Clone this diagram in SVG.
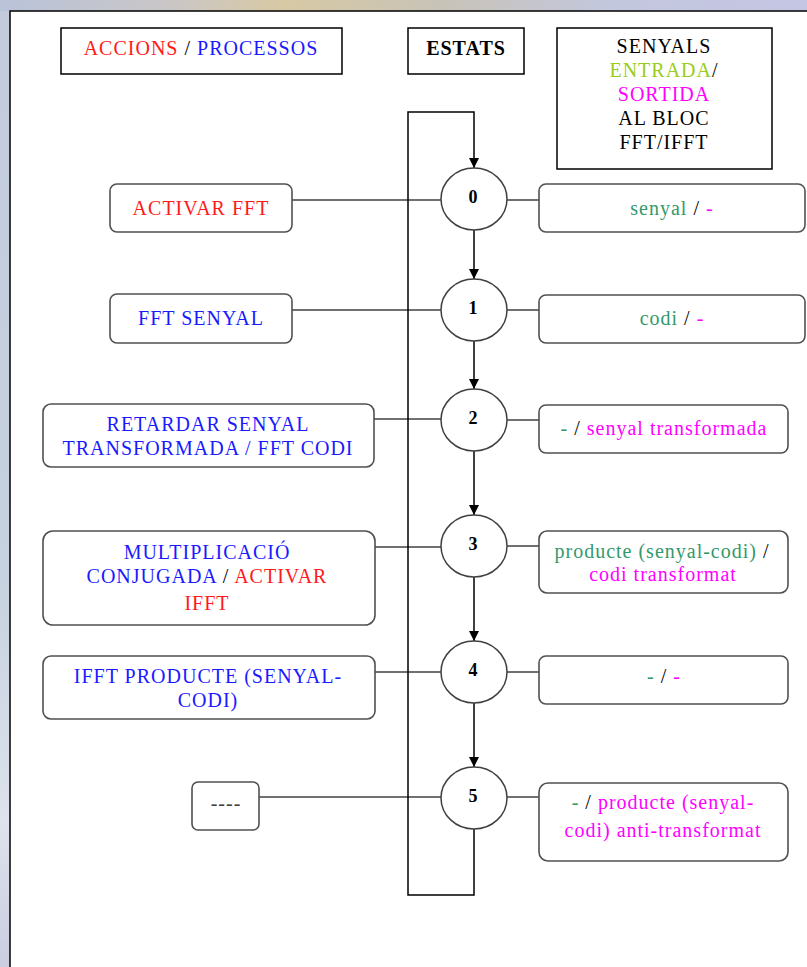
<svg xmlns="http://www.w3.org/2000/svg" width="807" height="967" viewBox="0 0 807 967">
  <defs>
    <linearGradient id="topBand" x1="0" y1="0" x2="1" y2="0">
      <stop offset="0" stop-color="#b9c3d9"/>
      <stop offset="0.2" stop-color="#c9c6c8"/>
      <stop offset="0.35" stop-color="#d8c9a4"/>
      <stop offset="0.55" stop-color="#c8c3b8"/>
      <stop offset="0.75" stop-color="#c3c7dd"/>
      <stop offset="1" stop-color="#c5c6e4"/>
    </linearGradient>
    <linearGradient id="leftBand" x1="0" y1="0" x2="0" y2="1">
      <stop offset="0" stop-color="#c3cadc"/>
      <stop offset="0.6" stop-color="#c6d2df"/>
      <stop offset="0.85" stop-color="#dde2ec"/>
      <stop offset="1" stop-color="#c9cde0"/>
    </linearGradient>
    <marker id="arrow" viewBox="0 0 10 10" refX="10" refY="5" markerWidth="10" markerHeight="10" markerUnits="userSpaceOnUse" orient="auto">
      <path d="M0,0 L10,5 L0,10 Z" fill="#000"/>
    </marker>
    <style>
      text { font-family: "Liberation Serif", "DejaVu Serif", serif; font-size: 20px; letter-spacing: 1px; text-anchor: middle; }
      .num { font-weight: bold; font-size: 18px; letter-spacing: 0; }
      .hdr { fill: #fff; stroke: #000; stroke-width: 1.5; }
      .box { fill: #fff; stroke: #505050; stroke-width: 1.6; }
      .state { fill: #fff; stroke: #404040; stroke-width: 1.5; }
      .wire { fill: none; stroke: #404040; stroke-width: 1.5; }
      .flow { fill: none; stroke: #000; stroke-width: 1.5; }
      .red { fill: #ff1a1a; }
      .blue { fill: #1a1aff; }
      .blk { fill: #000; }
      .grn { fill: #33996b; }
      .mag { fill: #ff00ff; }
      .lime { fill: #9acd1a; }
    </style>
  </defs>

  <!-- backdrop bands around the panel -->
  <rect x="0" y="0" width="807" height="967" fill="url(#leftBand)"/>
  <rect x="0" y="0" width="807" height="11" fill="url(#topBand)"/>

  <!-- main panel -->
  <rect x="10" y="11" width="820" height="980" fill="#fff" stroke="#000" stroke-width="1.5"/>

  <!-- column headers -->
  <g id="hdr-accions">
    <rect class="hdr" x="61" y="28" width="281" height="46"/>
    <text x="201" y="55"><tspan class="red">ACCIONS</tspan><tspan class="blk"> / </tspan><tspan class="blue">PROCESSOS</tspan></text>
  </g>
  <g id="hdr-estats">
    <rect class="hdr" x="408" y="28" width="116" height="46"/>
    <text x="466" y="55" font-weight="bold" class="blk">ESTATS</text>
  </g>
  <g id="hdr-senyals">
    <rect class="hdr" x="557" y="28" width="215" height="141"/>
    <text x="664" y="53" class="blk">SENYALS</text>
    <text x="664" y="77"><tspan class="lime">ENTRADA</tspan><tspan class="blk">/</tspan></text>
    <text x="664" y="101" class="mag">SORTIDA</text>
    <text x="664" y="125" class="blk">AL BLOC</text>
    <text x="664" y="149" class="blk">FFT/IFFT</text>
  </g>

  <!-- connectors -->
  <g id="connectors">
    <!-- action boxes to states -->
    <line class="wire" x1="292" y1="200" x2="441" y2="200"/>
    <line class="wire" x1="292" y1="310" x2="441" y2="310"/>
    <line class="wire" x1="374" y1="419" x2="441" y2="419"/>
    <line class="wire" x1="375" y1="547" x2="441" y2="547"/>
    <line class="wire" x1="375" y1="672" x2="441" y2="672"/>
    <line class="wire" x1="259" y1="797" x2="441" y2="797"/>
    <!-- states to signal boxes -->
    <line class="wire" x1="507" y1="200" x2="539" y2="200"/>
    <line class="wire" x1="507" y1="310" x2="539" y2="310"/>
    <line class="wire" x1="507" y1="420" x2="539" y2="420"/>
    <line class="wire" x1="507" y1="546" x2="539" y2="546"/>
    <line class="wire" x1="507" y1="672" x2="539" y2="672"/>
    <line class="wire" x1="507" y1="797" x2="539" y2="797"/>
    <!-- state transitions -->
    <line class="flow" x1="474" y1="230" x2="474" y2="279" marker-end="url(#arrow)"/>
    <line class="flow" x1="474" y1="341" x2="474" y2="389" marker-end="url(#arrow)"/>
    <line class="flow" x1="474" y1="451" x2="474" y2="515" marker-end="url(#arrow)"/>
    <line class="flow" x1="474" y1="577" x2="474" y2="641" marker-end="url(#arrow)"/>
    <line class="flow" x1="474" y1="703" x2="474" y2="767" marker-end="url(#arrow)"/>
    <!-- return from state 5 to state 0 -->
    <polyline class="flow" points="474,829 474,895 408,895 408,112 474,112 474,168" marker-end="url(#arrow)"/>
  </g>

  <!-- states -->
  <g id="state-0"><ellipse class="state" cx="474" cy="199" rx="33" ry="31"/><text class="num" x="473" y="203">0</text></g>
  <g id="state-1"><ellipse class="state" cx="474" cy="310" rx="33" ry="31"/><text class="num" x="473" y="314">1</text></g>
  <g id="state-2"><ellipse class="state" cx="474" cy="420" rx="33" ry="31"/><text class="num" x="473" y="424">2</text></g>
  <g id="state-3"><ellipse class="state" cx="474" cy="546" rx="33" ry="31"/><text class="num" x="473" y="550">3</text></g>
  <g id="state-4"><ellipse class="state" cx="474" cy="672" rx="33" ry="31"/><text class="num" x="473" y="676">4</text></g>
  <g id="state-5"><ellipse class="state" cx="474" cy="798" rx="33" ry="31"/><text class="num" x="473" y="802">5</text></g>

  <!-- actions / processes -->
  <g id="act-0">
    <rect class="box" x="110" y="184" width="182" height="48" rx="7"/>
    <text x="201" y="215" class="red">ACTIVAR FFT</text>
  </g>
  <g id="act-1">
    <rect class="box" x="110" y="294" width="182" height="49" rx="7"/>
    <text x="201" y="325" class="blue">FFT SENYAL</text>
  </g>
  <g id="act-2">
    <rect class="box" x="43" y="404" width="331" height="63" rx="8"/>
    <text x="208" y="431" class="blue">RETARDAR SENYAL</text>
    <text x="208" y="455" class="blue">TRANSFORMADA / FFT CODI</text>
  </g>
  <g id="act-3">
    <rect class="box" x="43" y="531" width="332" height="94" rx="10"/>
    <text x="207" y="559" class="blue">MULTIPLICACIÓ</text>
    <text x="207" y="583"><tspan class="blue">CONJUGADA</tspan><tspan class="blk"> / </tspan><tspan class="red">ACTIVAR</tspan></text>
    <text x="207" y="610" class="red">IFFT</text>
  </g>
  <g id="act-4">
    <rect class="box" x="43" y="656" width="332" height="63" rx="8"/>
    <text x="208" y="683" class="blue">IFFT PRODUCTE (SENYAL-</text>
    <text x="208" y="707" class="blue">CODI)</text>
  </g>
  <g id="act-5">
    <rect class="box" x="192" y="782" width="67" height="48" rx="6"/>
    <text x="226" y="810" fill="#404040">----</text>
  </g>

  <!-- input / output signals -->
  <g id="sig-0">
    <rect class="box" x="539" y="184" width="266" height="48" rx="7"/>
    <text x="672" y="215"><tspan class="grn">senyal</tspan><tspan class="blk"> / </tspan><tspan class="mag">-</tspan></text>
  </g>
  <g id="sig-1">
    <rect class="box" x="539" y="295" width="266" height="48" rx="7"/>
    <text x="672" y="325"><tspan class="grn">codi</tspan><tspan class="blk"> / </tspan><tspan class="mag">-</tspan></text>
  </g>
  <g id="sig-2">
    <rect class="box" x="539" y="405" width="249" height="48" rx="7"/>
    <text x="664" y="435"><tspan class="grn">-</tspan><tspan class="blk"> / </tspan><tspan class="mag">senyal transformada</tspan></text>
  </g>
  <g id="sig-3">
    <rect class="box" x="539" y="531" width="249" height="62" rx="8"/>
    <text x="662" y="558"><tspan class="grn">producte (senyal-codi)</tspan><tspan class="blk"> /</tspan></text>
    <text x="663" y="581" class="mag">codi transformat</text>
  </g>
  <g id="sig-4">
    <rect class="box" x="539" y="656" width="249" height="48" rx="7"/>
    <text x="664" y="683"><tspan class="grn">-</tspan><tspan class="blk"> / </tspan><tspan class="mag">-</tspan></text>
  </g>
  <g id="sig-5">
    <rect class="box" x="539" y="783" width="249" height="78" rx="9"/>
    <text x="663" y="809"><tspan class="grn">-</tspan><tspan class="blk"> / </tspan><tspan class="mag">producte (senyal-</tspan></text>
    <text x="663" y="837" class="mag">codi) anti-transformat</text>
  </g>
</svg>
